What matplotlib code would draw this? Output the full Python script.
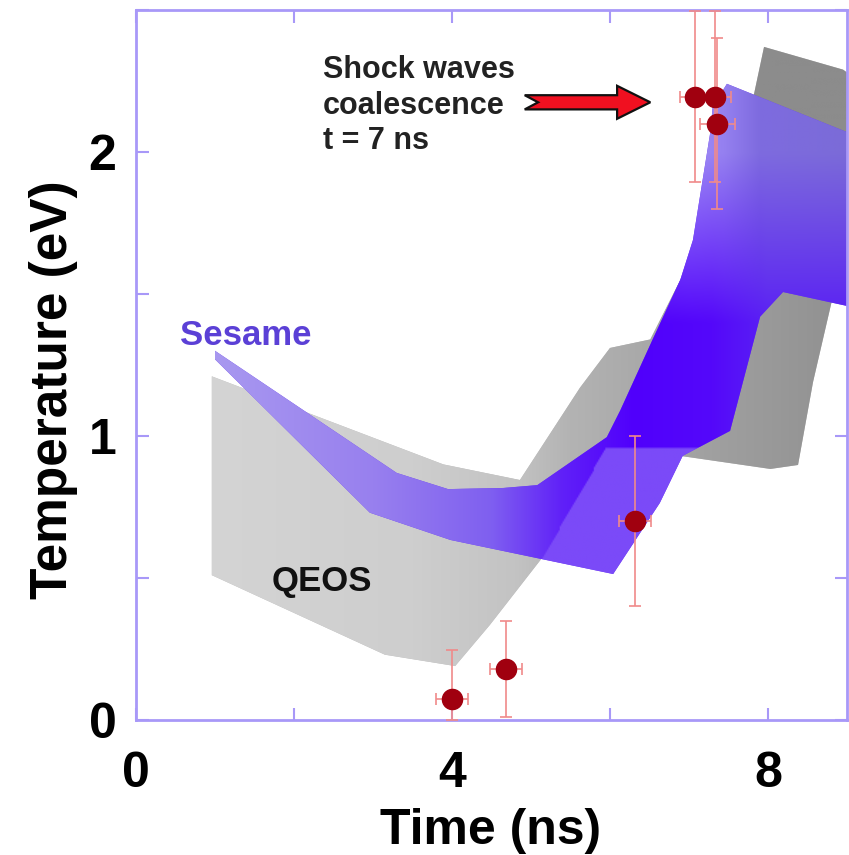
import numpy as np
import matplotlib
matplotlib.use("Agg")
import matplotlib.pyplot as plt
from matplotlib.patches import Polygon
from matplotlib.colors import to_rgb

# ---------------- data ----------------
qeos_upper_t = [0.96, 3.89, 4.86, 5.62, 6.00, 6.51, 7.20, 7.82, 7.95, 8.95, 9.00]
qeos_upper_T = [1.21, 0.90, 0.845, 1.17, 1.31, 1.34, 1.72, 2.20, 2.37, 2.29, 2.28]
qeos_lower_t = [0.96, 3.15, 4.04, 4.48, 5.11, 5.90, 6.89, 8.03, 8.38, 8.57, 8.82, 9.00]
qeos_lower_T = [0.51, 0.23, 0.19, 0.335, 0.56, 0.85, 0.93, 0.884, 0.898, 1.19, 1.49, 1.62]

sesame_upper_t = [1.00, 3.30, 3.95, 4.65, 5.08, 5.96, 6.13, 6.54, 6.89, 7.05, 7.27, 7.30, 7.48, 9.00]
sesame_upper_T = [1.30, 0.87, 0.813, 0.817, 0.827, 0.996, 1.09, 1.34, 1.55, 1.69, 2.07, 2.16, 2.24, 2.07]
sesame_lower_t = [1.00, 2.96, 3.98, 6.04, 6.63, 6.92, 7.52, 7.90, 8.19, 9.00]
sesame_lower_T = [1.27, 0.73, 0.634, 0.514, 0.764, 0.93, 1.018, 1.42, 1.507, 1.458]

exp_t = [4.00, 4.68, 6.32, 7.08, 7.33, 7.36]
exp_T = [0.075, 0.18, 0.70, 2.195, 2.195, 2.10]
exp_T_lo = [0.075, 0.17, 0.30, 0.30, 0.30, 0.30]
exp_T_hi = [0.17, 0.17, 0.30, 0.30, 0.30, 0.30]
exp_t_err = [0.2, 0.2, 0.2, 0.2, 0.2, 0.22]

x_ticks = [0, 2, 4, 6, 8]
x_ticklabels = ["0", "", "4", "", "8"]
y_ticks = [0, 0.5, 1, 1.5, 2, 2.5]
y_ticklabels = ["0", "", "1", "", "2", ""]

arrow_tail_t, arrow_tip_t, arrow_T = 4.92, 6.51, 2.175

# ---------------- figure ----------------
W, H = 849, 855
fig = plt.figure(figsize=(W / 100, H / 100), dpi=100)
ax = fig.add_axes([136 / W, 135 / H, 711 / W, 710 / H])
XMIN, XMAX, YMIN, YMAX = 0, 9, 0, 2.5

SANS = ["Liberation Sans", "DejaVu Sans"]

nx, ny = 500, 300
gx = np.linspace(XMIN, XMAX, nx)
gy = np.linspace(YMIN, YMAX, ny)
GX, GY = np.meshgrid(gx, gy)


def interp_colors(xk, ck, X):
    rgb = np.array([to_rgb(c) for c in ck])
    out = np.zeros(X.shape + (3,))
    for i in range(3):
        out[..., i] = np.interp(X, xk, rgb[:, i])
    return out


def band(ut, uT, lt, lT, img, fc, z):
    verts = np.column_stack([list(ut) + list(lt)[::-1], list(uT) + list(lT)[::-1]])
    poly = Polygon(verts, closed=True, facecolor=fc, edgecolor="none", zorder=z)
    ax.add_patch(poly)
    im = ax.imshow(img, extent=[XMIN, XMAX, YMIN, YMAX], origin="lower",
                   aspect="auto", interpolation="bilinear", zorder=z + 0.1)
    im.set_clip_path(poly)


# QEOS gray band
gray = interp_colors([0.9, 3.5, 4.8, 5.5, 6.5, 7.5, 8.5, 9.0],
                     ["#d4d4d4", "#cecece", "#c3c3c3", "#b3b3b3", "#a8a8a8",
                      "#9e9e9e", "#959595", "#8f8f8f"], GX)
wtop = np.clip((GY - 1.9) / 0.2, 0, 1)[..., None]
gray = gray * (1 - wtop) + np.array(to_rgb("#8c8c8c")) * wtop
band(qeos_upper_t, qeos_upper_T, qeos_lower_t, qeos_lower_T, gray, "#bdbdbd", 1)

# Sesame purple band
base = interp_colors([1.0, 3.0, 4.5, 5.4, 6.3, 7.3, 8.0],
                     ["#a898f0", "#9880ee", "#7f5ff0", "#6020f8", "#5000fc",
                      "#5408fa", "#5a20f4"], GX)
light_low = np.array(to_rgb("#7b4af8"))
yline = 0.54 + 0.483 * (GX - 5.09)
wl = ((GY < yline) & (GY < 0.96)).astype(float)[..., None]
base = base * (1 - wl) + light_low * wl
topc = interp_colors([7.0, 7.45, 7.9, 9.0],
                     ["#a08cf8", "#9580f0", "#7e6bdf", "#7b6bd8"], GX)
wt = np.clip((GY - 1.4) / 0.6, 0, 1)[..., None]
purple = base * (1 - wt) + topc * wt
band(sesame_upper_t, sesame_upper_T, sesame_lower_t, sesame_lower_T, purple, "#6a40f0", 2)

# experimental points
ax.errorbar(exp_t, exp_T, yerr=[exp_T_lo, exp_T_hi], xerr=exp_t_err, fmt="none",
            ecolor="#f08a8a", elinewidth=1.2, capsize=4, capthick=1.2, zorder=4)
ax.plot(exp_t, exp_T, "o", color="#a0000f", markersize=14.5, zorder=5, clip_on=False)

# arrow annotation
bh, hh, hl, notch = 0.025, 0.058, 0.42, 0.17
hb = arrow_tip_t - hl
arrow = Polygon([(arrow_tail_t, arrow_T + bh), (hb, arrow_T + bh), (hb, arrow_T + hh),
                 (arrow_tip_t, arrow_T), (hb, arrow_T - hh), (hb, arrow_T - bh),
                 (arrow_tail_t, arrow_T - bh), (arrow_tail_t + notch, arrow_T)],
                closed=True, facecolor="#f01020", edgecolor="#111111", lw=1.6, zorder=6)
ax.add_patch(arrow)

ax.text(2.37, 2.34, "Shock waves\ncoalescence\nt = 7 ns", ha="left", va="top",
        fontsize=22, fontweight="bold", color="#222222", family=SANS,
        linespacing=1.22, zorder=6)
ax.text(0.56, 1.32, "Sesame", ha="left", va="baseline", fontsize=25,
        fontweight="bold", color="#5b40d6", family=SANS, zorder=6)
ax.text(1.72, 0.455, "QEOS", ha="left", va="baseline", fontsize=25,
        fontweight="bold", color="#111111", family=SANS, zorder=6)

# axes styling
ax.set_xlim(XMIN, XMAX)
ax.set_ylim(YMIN, YMAX)
frame_c = "#a898f8"
for s in ax.spines.values():
    s.set_color(frame_c)
    s.set_linewidth(2)
ax.set_xticks(x_ticks)
ax.set_xticklabels(x_ticklabels)
ax.set_yticks(y_ticks)
ax.set_yticklabels(y_ticklabels)
ax.tick_params(direction="in", length=9, width=1.5, color=frame_c,
               top=True, right=True, labelsize=36)
ax.tick_params(axis="x", pad=22)
ax.tick_params(axis="y", pad=14)
for lab in ax.get_xticklabels() + ax.get_yticklabels():
    lab.set_fontweight("bold")
    lab.set_family(SANS)

ax.set_xlabel("Time (ns)", fontsize=36, fontweight="bold", family=SANS)
ax.set_ylabel("Temperature (eV)", fontsize=37, fontweight="bold", family=SANS)
ax.xaxis.set_label_coords(0.498, -0.124)
ax.yaxis.set_label_coords(-0.082, 0.465)

fig.savefig("out.png", dpi=100)
